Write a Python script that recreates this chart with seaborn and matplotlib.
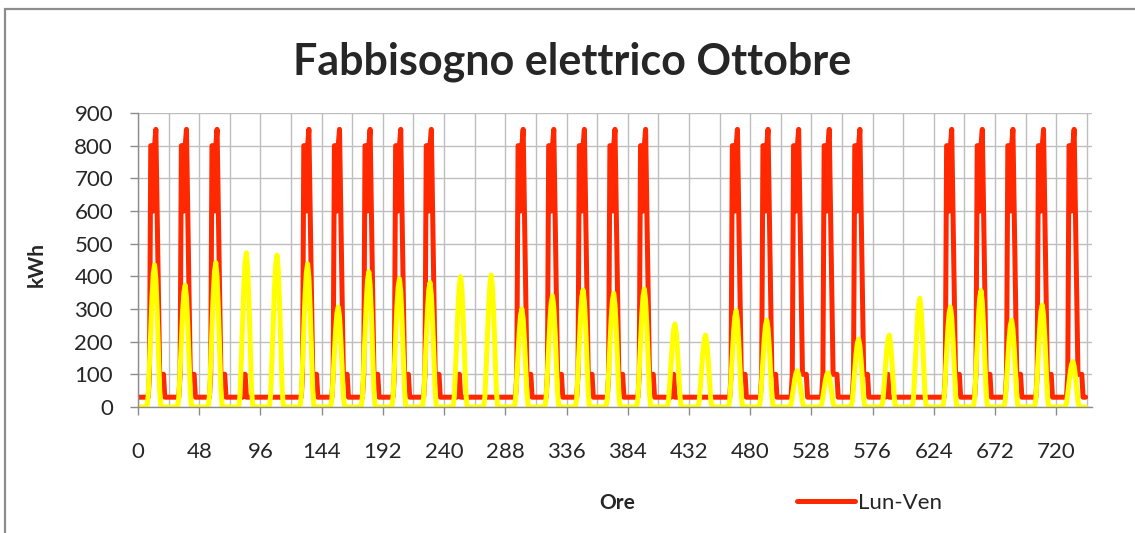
import numpy as np
import pandas as pd
import matplotlib
matplotlib.use("Agg")
import matplotlib.pyplot as plt
from matplotlib.ticker import MultipleLocator
from matplotlib.patches import Rectangle
import seaborn as sns

# Tipo di giorno per ottobre (1 ottobre = mercoledì): L = lavorativo, S = sabato, D = domenica
tipo_giorno = ["L", "L", "L", "S", "D",
               "L", "L", "L", "L", "L", "S", "D",
               "L", "L", "L", "L", "L", "S", "D",
               "L", "L", "L", "L", "L", "S", "D",
               "L", "L", "L", "L", "L"]

# Profilo orario del fabbisogno elettrico [kWh], ore 0..23
profilo_lavorativo = [30, 30, 30, 30, 30, 30, 30, 30, 30, 100, 800, 800,
                      600, 800, 850, 600, 350, 100, 100, 100, 100, 30, 30, 30]
profilo_sabato = [30, 30, 30, 30, 30, 30, 30, 30, 30, 30, 30, 100,
                  100, 30, 30, 30, 30, 30, 30, 30, 30, 30, 30, 30]
profilo_domenica = [30] * 24

# Forma oraria normalizzata della seconda serie, ore 0..23
forma_giornaliera = [0, 0, 0, 0, 0, 0, 0, 0, 0.08, 0.3, 0.55, 0.78,
                     0.94, 1.0, 0.9, 0.68, 0.4, 0.12, 0, 0, 0, 0, 0, 0]
# Valore massimo giornaliero della seconda serie [kWh]
picco_giornaliero = [435, 373, 442, 472, 465, 438, 306, 414, 392, 381, 399,
                     404, 300, 340, 358, 348, 361, 254, 220, 295, 266, 111,
                     105, 208, 220, 333, 306, 356, 266, 312, 139]

profili = {"L": profilo_lavorativo, "S": profilo_sabato, "D": profilo_domenica}
fabbisogno = np.concatenate([profili[t] for t in tipo_giorno])
seconda = np.concatenate([np.array(forma_giornaliera) * p for p in picco_giornaliero])
ore = np.arange(len(fabbisogno))
df = pd.DataFrame({"ora": ore, "lunven": fabbisogno, "seconda": seconda})

sns.set_theme(style="white")
plt.rcParams["font.family"] = ["Lato", "DejaVu Sans"]

fig = plt.figure(figsize=(11.35, 5.33), dpi=100)
fig.patch.set_facecolor("white")
fig.add_artist(Rectangle((5 / 1135, -0.1), 1.2, (533 - 9) / 533 + 0.1,
                         transform=fig.transFigure, fill=False,
                         edgecolor="#8C8C8C", linewidth=1.6))

ax = fig.add_axes([138 / 1135, 126 / 533, 954 / 1135, 294 / 533])
sns.lineplot(data=df, x="ora", y="lunven", color="#FF2800", linewidth=3.6,
             ax=ax, label="Lun-Ven")
sns.lineplot(data=df, x="ora", y="seconda", color="#FFFF00", linewidth=3.6,
             ax=ax, legend=False)

ax.set_xlim(0, 748)
ax.set_ylim(0, 900)
ax.xaxis.set_major_locator(MultipleLocator(48))
ax.xaxis.set_minor_locator(MultipleLocator(24))
ax.yaxis.set_major_locator(MultipleLocator(100))
ax.grid(which="both", color="#BEBEBE", linewidth=1)
ax.set_axisbelow(True)
for s in ["top", "right"]:
    ax.spines[s].set_visible(False)
for s in ["left", "bottom"]:
    ax.spines[s].set_color("#8C8C8C")
    ax.spines[s].set_linewidth(1)
ax.tick_params(axis="x", which="major", direction="out", length=6, width=1,
               color="#8C8C8C", pad=19, labelsize=16, bottom=True)
ax.tick_params(axis="x", which="minor", length=0)
ax.tick_params(axis="y", direction="out", length=6, width=1, color="#8C8C8C",
               pad=12, labelsize=16, left=True)

ax.set_xlabel("Ore", fontsize=15, fontweight="bold", va="center")
ax.xaxis.set_label_coords(0.502, -0.3265)
ax.set_ylabel("kWh", fontsize=15, fontweight="bold", va="center")
ax.yaxis.set_label_coords(-0.106, 0.483)

ax.legend(loc="center left", bbox_to_anchor=(797 / 1135, 30 / 533),
          bbox_transform=fig.transFigure, frameon=False, handlelength=2.6,
          fontsize=16, handletextpad=0.15, borderaxespad=0, borderpad=0)

fig.text(572 / 1135, (533 - 62) / 533, "Fabbisogno elettrico Ottobre",
         ha="center", va="center", fontsize=31, fontweight="bold")

fig.savefig("out.png", dpi=100)
